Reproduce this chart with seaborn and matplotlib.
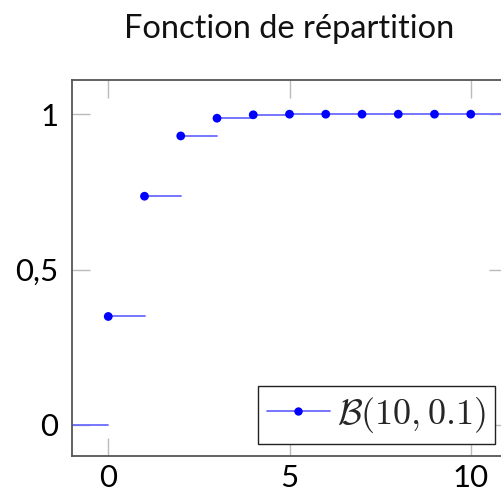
import matplotlib
matplotlib.use("Agg")
import matplotlib.pyplot as plt
import seaborn as sns
import pandas as pd
from matplotlib.lines import Line2D

# Data: CDF of B(10, 0.1)
k_values = [0, 1, 2, 3, 4, 5, 6, 7, 8, 9, 10]
cdf_values = [0.349, 0.736, 0.930, 0.987, 0.998, 1.0, 1.0, 1.0, 1.0, 1.0, 1.0]
x_ticks = [0, 5, 10]
y_ticks = [0, 0.5, 1]
y_tick_labels = ["0", "0,5", "1"]
title = "Fonction de répartition"
legend_label = r"$\mathcal{B}(10, 0.1)$"

sns.set_theme(style="white")
plt.rcParams['font.family'] = ['Lato', 'DejaVu Sans']
plt.rcParams['mathtext.fontset'] = 'cm'

# Build step segments: [k, k+1] at F(k); before 0, F=0
seg_rows = []
starts = [-1] + k_values
levels = [0.0] + cdf_values
for i, (s, v) in enumerate(zip(starts, levels)):
    seg_rows.append({"seg": i, "x": s, "y": v})
    seg_rows.append({"seg": i, "x": s + 1, "y": v})
seg = pd.DataFrame(seg_rows)
pts = pd.DataFrame({"x": k_values, "y": cdf_values})

fig = plt.figure(figsize=(5.01, 4.96), dpi=100)
ax = fig.add_axes([72 / 501, 40 / 496, 435 / 501, 376 / 496])

line_color = "#6b6bff"
sns.lineplot(data=seg, x="x", y="y", units="seg", estimator=None,
             color=line_color, linewidth=1.3, ax=ax, legend=False)
sns.scatterplot(data=pts, x="x", y="y", color="#0000ff", s=40,
                edgecolor="none", ax=ax, legend=False, zorder=3)

ax.set_xlim(-1, 11)
ax.set_ylim(-0.1, 1.11)
ax.set_xticks(x_ticks)
ax.set_xticklabels([str(t) for t in x_ticks])
ax.set_yticks(y_ticks)
ax.set_yticklabels(y_tick_labels)
ax.set_xlabel("")
ax.set_ylabel("")

ax.tick_params(axis="both", which="both", direction="in", length=13,
               width=1.0, color="#bbbbbb", labelsize=22.5, labelcolor="black",
               top=True, right=True, bottom=True, left=True)
ax.tick_params(axis="x", pad=6)
ax.tick_params(axis="y", pad=10)

for sp in ax.spines.values():
    sp.set_visible(True)
    sp.set_color("#555555")
    sp.set_linewidth(1.3)

ax.set_title(title, fontsize=23.5, pad=30, color="#111111")

handle = Line2D([0], [0], color=line_color, linewidth=1.3, marker="o",
                markersize=5, markerfacecolor="#0000ff", markeredgecolor="#0000ff")
leg = ax.legend([handle], [legend_label], loc="lower right", fontsize=26,
                frameon=True, fancybox=False, framealpha=1, edgecolor="#222222",
                borderaxespad=0.33, handlelength=1.75, handletextpad=0.2,
                borderpad=0.25)
leg.get_frame().set_linewidth(1.0)

fig.savefig("out.png", dpi=100)
